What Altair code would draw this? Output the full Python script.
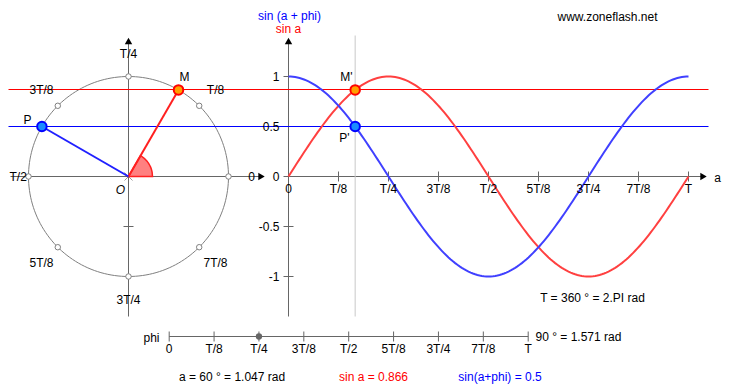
import math
import numpy as np
import pandas as pd
import altair as alt

# ---------------- data ----------------
alpha_deg = 60            # angle a
phi_deg = 90              # phase phi
period_ticks = ["0", "T/8", "T/4", "3T/8", "T/2", "5T/8", "3T/4", "7T/8", "T"]
circle_marks = ["0", "T/8", "T/4", "3T/8", "T/2", "5T/8", "3T/4", "7T/8"]
y_values = [1, 0.5, 0, -0.5, -1]
y_labels = ["1", "0.5", "0", "-0.5", "-1"]

a = math.radians(alpha_deg)
p = math.radians(phi_deg)
sin_a = round(math.sin(a), 3)
sin_ap = round(math.sin(a + p), 3)

# ---------------- layout (units: 1 = circle radius) ----------------
W, H = 714, 376
HP = 0.005   # half a pixel, so 1px lines fall on pixel centres
xs = alt.Scale(domain=[-1.2 - HP, 5.94 - HP], nice=False, zero=False)
ys = alt.Scale(domain=[-2.08 + HP, 1.68 + HP], nice=False, zero=False)
GX0, GK = 1.6, 4.0 / 360.0          # graph origin / units per degree
SX0, SK, SY = 0.407, 3.59 / 360.0, -1.6   # slider


def U(px):
    return (px - 128) / 100.0


def V(py):
    return (176 - py) / 100.0


X = lambda f: alt.X(f, type="quantitative", scale=xs, axis=None)
Y = lambda f: alt.Y(f, type="quantitative", scale=ys, axis=None)


def rules(rows, **kw):
    df = pd.DataFrame(rows, columns=["x", "y", "x2", "y2", "c", "w"])
    return alt.Chart(df).mark_rule(**kw).encode(
        x=X("x"), y=Y("y"), x2="x2:Q", y2="y2:Q",
        color=alt.Color("c:N", scale=None),
        strokeWidth=alt.StrokeWidth("w:Q", scale=None),
    )


AX = "#666666"
# axes and ticks
axes_rows = [
    (-1.18, 0, 1.32, 0, AX, 1),
    (0, 1.36, 0, -1.4, AX, 1),
    (-0.05, 0.5, 0.05, 0.5, AX, 1),
    (-0.05, -0.5, 0.05, -0.5, AX, 1),
    (-0.04, 0.04, 0.04, -0.04, "#999999", 1),
    (-0.04, -0.04, 0.04, 0.04, "#999999", 1),
    (GX0, 0, 5.75, 0, AX, 1),
    (GX0, 1.36, GX0, -1.4, AX, 1),
    (SX0, SY, SX0 + 360 * SK, SY, AX, 1),
]
for k in range(len(period_ticks)):
    axes_rows.append((GX0 + k * 45 * GK, 0.05, GX0 + k * 45 * GK, -0.05, AX, 1))
    axes_rows.append((SX0 + k * 45 * SK, SY + 0.05, SX0 + k * 45 * SK, SY - 0.05, AX, 1))
for v in y_values:
    axes_rows.append((GX0 - 0.05, v, GX0 + 0.05, v, AX, 1))
axes_rows.append((GX0 + alpha_deg * GK, 1.41, GX0 + alpha_deg * GK, -1.4, "#c8c8c8", 1))
axes_layer = rules(axes_rows)

# circle
ang = np.arange(0, 361, 2)
circle_df = pd.DataFrame({"x": np.cos(np.radians(ang)), "y": np.sin(np.radians(ang)), "o": ang})
circle_layer = alt.Chart(circle_df).mark_line(color="#808080", strokeWidth=1).encode(
    x=X("x"), y=Y("y"), order="o:Q")

# horizontal projection lines (red one nudged onto a pixel row)
hline_red = rules([(-1.2, sin_a, 5.8, sin_a, "#ff0000", 1)], yOffset=-0.4, y2Offset=-0.4)
hline_blue = rules([(-1.2, math.sin(a + p), 5.8, math.sin(a + p), "#0000ff", 1)])

# angle wedge
r = 0.24
wx = sorted(set(list(np.linspace(0, r, 61)) + [r * math.cos(a)]))
wedge_df = pd.DataFrame({"x": wx,
                         "y": [min(x * math.tan(a), math.sqrt(max(r * r - x * x, 0))) for x in wx]})
wedge_layer = alt.Chart(wedge_df).mark_area(
    fill="#ff8080", stroke="#ff2020", strokeWidth=1.5, opacity=1).encode(
    x=X("x"), y=Y("y"), y2=alt.datum(0))

# radius lines
radius_layer = rules([
    (0, 0, math.cos(a), math.sin(a), "#ff2020", 2),
    (0, 0, math.cos(a + p), math.sin(a + p), "#2020ff", 2),
])

# curves
t = np.arange(0, 361, 2)
curves_df = pd.concat([
    pd.DataFrame({"x": GX0 + t * GK, "y": np.sin(np.radians(t)), "t": t, "s": "sin a", "c": "#ff4040"}),
    pd.DataFrame({"x": GX0 + t * GK, "y": np.sin(np.radians(t) + p), "t": t, "s": "sin a+phi", "c": "#4040ff"}),
])
curves_layer = alt.Chart(curves_df).mark_line(strokeWidth=2).encode(
    x=X("x"), y=Y("y"), order="t:Q", detail="s:N", color=alt.Color("c:N", scale=None))

# small dots on circle
dots_df = pd.DataFrame({"x": [math.cos(math.radians(45 * k)) for k in range(8)],
                        "y": [math.sin(math.radians(45 * k)) for k in range(8)]})
dots_layer = alt.Chart(dots_df).mark_circle(
    color="white", stroke="#808080", strokeWidth=1, size=30, opacity=1).encode(x=X("x"), y=Y("y"))

# slider knob
knob_layer = alt.Chart(pd.DataFrame({"x": [SX0 + phi_deg * SK], "y": [SY]})).mark_circle(
    color="#666666", size=40, opacity=1).encode(x=X("x"), y=Y("y"))

# main points
pts_df = pd.DataFrame({
    "x": [math.cos(a), math.cos(a + p), GX0 + alpha_deg * GK, GX0 + alpha_deg * GK],
    "y": [math.sin(a), math.sin(a + p), math.sin(a), math.sin(a + p)],
    "f": ["#ffa000", "#1a8cff", "#ffa000", "#1a8cff"],
    "s": ["#ff0000", "#0000ff", "#ff0000", "#0000ff"],
})
pts_layer = alt.Chart(pts_df).mark_circle(size=90, strokeWidth=2, opacity=1).encode(
    x=X("x"), y=Y("y"), fill=alt.Fill("f:N", scale=None), stroke=alt.Stroke("s:N", scale=None))

# arrows
up_df = pd.DataFrame({"x": [0, GX0], "y": [1.355, 1.355]})
right_df = pd.DataFrame({"x": [1.33, 5.75], "y": [0, 0]})
up_layer = alt.Chart(up_df).mark_point(shape="triangle-up", filled=True, color="black",
                                       size=55, opacity=1).encode(x=X("x"), y=Y("y"))
right_layer = alt.Chart(right_df).mark_point(shape="triangle-right", filled=True, color="black",
                                             size=55, opacity=1).encode(x=X("x"), y=Y("y"))

# texts
BL, RD, BU = "#000000", "#ff0000", "#0000ff"
center_rows = []
left_rows = []
for k, lab in enumerate(circle_marks):
    th = math.radians(45 * k)
    if lab == "T/2":
        # kept inside the visible area
        left_rows.append((U(9), 0, lab, BL))
    else:
        center_rows.append((1.23 * math.cos(th), 1.23 * math.sin(th), lab, BL))
for k, lab in enumerate(period_ticks):
    center_rows.append((GX0 + k * 45 * GK, V(188), lab, BL))
    center_rows.append((SX0 + k * 45 * SK, V(348), lab, BL))
center_rows += [
    (U(184), V(76), "M", BL),
    (U(27), V(119), "P", BL),
    (U(346), V(76), "M'", BL),
    (U(344), V(137), "P'", BL),
    (U(717), V(177), "a", BL),
    (U(289), V(15), "sin (a + phi)", BU),
    (U(288), V(28), "sin a", RD),
    (U(607), V(16), "www.zoneflash.net", BL),
    (U(592), V(297), "T = 360 ° = 2.PI rad", BL),
    (U(151), V(337), "phi", BL),
    (U(231.5), V(376), f"a = {alpha_deg} ° = {a:.3f} rad", BL),
    (U(373), V(376), f"sin a = {sin_a:g}", RD),
    (U(499.5), V(376), f"sin(a+phi) = {sin_ap:g}", BU),
]
right_rows = [(U(279), v, lab, BL) for v, lab in zip(y_values, y_labels)]
left_rows.append((U(535), V(336), f"{phi_deg} ° = {p:.3f} rad", BL))
italic_rows = [(U(120), V(189), "O", BL)]

FONT = "Liberation Sans"


def texts(rows, align, style="normal"):
    df = pd.DataFrame(rows, columns=["x", "y", "t", "c"])
    return alt.Chart(df).mark_text(align=align, baseline="middle", font=FONT, fontSize=12,
                                   fontStyle=style).encode(
        x=X("x"), y=Y("y"), text="t:N", color=alt.Color("c:N", scale=None))


chart = alt.layer(
    axes_layer, circle_layer, wedge_layer, hline_red, hline_blue, radius_layer, curves_layer,
    dots_layer, knob_layer, pts_layer, up_layer, right_layer,
    texts(center_rows, "center"), texts(right_rows, "right"), texts(left_rows, "left"),
    texts(italic_rows, "center", "italic"),
).properties(
    width=W, height=H, padding=0, autosize=alt.AutoSizeParams(type="none"),
    background="white",
).configure_view(strokeWidth=0)

chart.save("out.html", embed_options={"renderer": "svg", "actions": False})
